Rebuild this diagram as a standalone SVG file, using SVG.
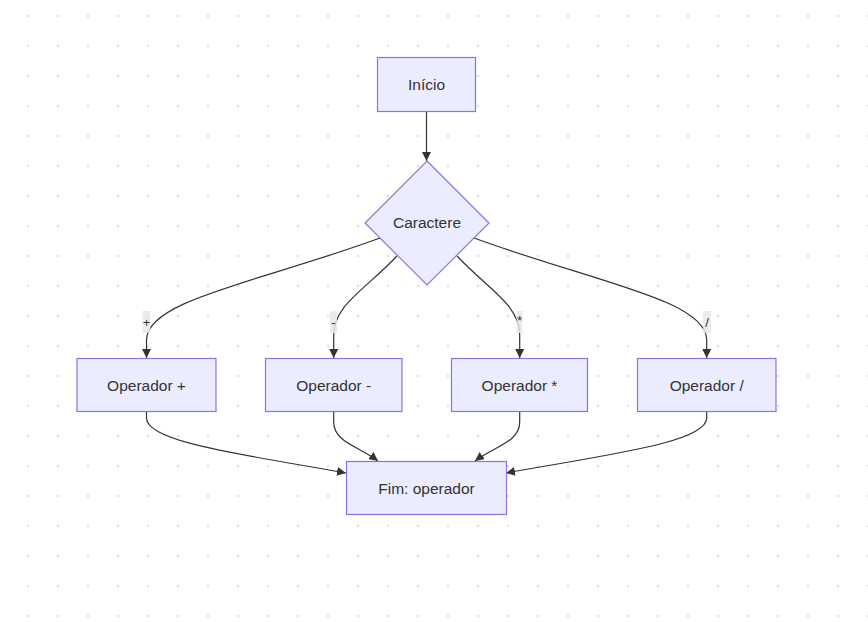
<svg xmlns="http://www.w3.org/2000/svg" width="868" height="622" viewBox="0 0 868 622">
<style>
.node rect, .node polygon { fill: #ECECFF; stroke: #9370DB; stroke-width: 1.2; }
.node text { font-family: "Liberation Sans", Arial, sans-serif; font-size: 15.5px; fill: #333333; text-anchor: middle; dominant-baseline: central; }
.edge { fill: none; stroke: #333333; stroke-width: 1.2; marker-end: url(#arrow); }
.lbl rect { fill: #e8e8e8; fill-opacity: 0.85; }
.lbl text { font-family: "Liberation Sans", Arial, sans-serif; font-size: 13px; fill: #333333; text-anchor: middle; dominant-baseline: central; }
</style>
<defs>
<pattern id="dots" x="13" y="1" width="30" height="30" patternUnits="userSpaceOnUse">
<circle cx="15" cy="15" r="1.3" fill="#e3e3e3"/>
</pattern>
<marker id="arrow" viewBox="0 0 10 10" refX="10" refY="5" markerWidth="9" markerHeight="9" markerUnits="userSpaceOnUse" orient="auto">
<path d="M0,0 L10,5 L0,10 z" fill="#333333"/>
</marker>
</defs>
<rect width="868" height="622" fill="#ffffff"/>
<rect width="868" height="622" fill="url(#dots)"/>
<g id="connectors">
<path class="edge" d="M426.5,111.5 V161"/>
<path class="edge" d="M380,238 C260,282 146.5,300 146.5,340 V358"/>
<path class="edge" d="M397,256 C365,290 333.7,305 333.7,335 V358"/>
<path class="edge" d="M457,256 C489,290 519.7,305 519.7,335 V358"/>
<path class="edge" d="M474,238 C594,282 706.7,300 706.7,340 V358"/>
<path class="edge" d="M146.5,411 V418 C146.5,442 240,454 346,473"/>
<path class="edge" d="M333.7,411 V422 C333.7,442 358,446 378,461"/>
<path class="edge" d="M519.7,411 V422 C519.7,442 495,446 475,461"/>
<path class="edge" d="M706.7,411 V418 C706.7,442 612,454 506,473"/>
<g class="lbl"><rect x="142.5" y="311" width="8" height="22"/><text x="146.5" y="322">+</text></g>
<g class="lbl"><rect x="330" y="311" width="7" height="22"/><text x="333.5" y="322">-</text></g>
<g class="lbl"><rect x="516.5" y="311" width="6" height="22"/><text x="519.5" y="320">*</text></g>
<g class="lbl"><rect x="703" y="311" width="8" height="22"/><text x="707" y="322">/</text></g>
</g>
<g id="inicio" class="node"><rect x="377.5" y="57.5" width="98" height="54"/><text x="426.5" y="84.5">Início</text></g>
<g id="caractere" class="node"><polygon points="427,161 489,223 427,285 365,223"/><text x="427" y="222.5">Caractere</text></g>
<g id="op-mais" class="node"><rect x="77" y="358.5" width="139" height="53"/><text x="146.5" y="385">Operador +</text></g>
<g id="op-menos" class="node"><rect x="265.5" y="358.5" width="136.5" height="53"/><text x="333.7" y="385">Operador -</text></g>
<g id="op-vezes" class="node"><rect x="451.5" y="358.5" width="136" height="53"/><text x="519.5" y="385">Operador *</text></g>
<g id="op-div" class="node"><rect x="637.5" y="358.5" width="138.5" height="53"/><text x="706.7" y="385">Operador /</text></g>
<g id="fim" class="node"><rect x="346.5" y="461.5" width="160" height="53"/><text x="426.5" y="488">Fim: operador</text></g>
</svg>
